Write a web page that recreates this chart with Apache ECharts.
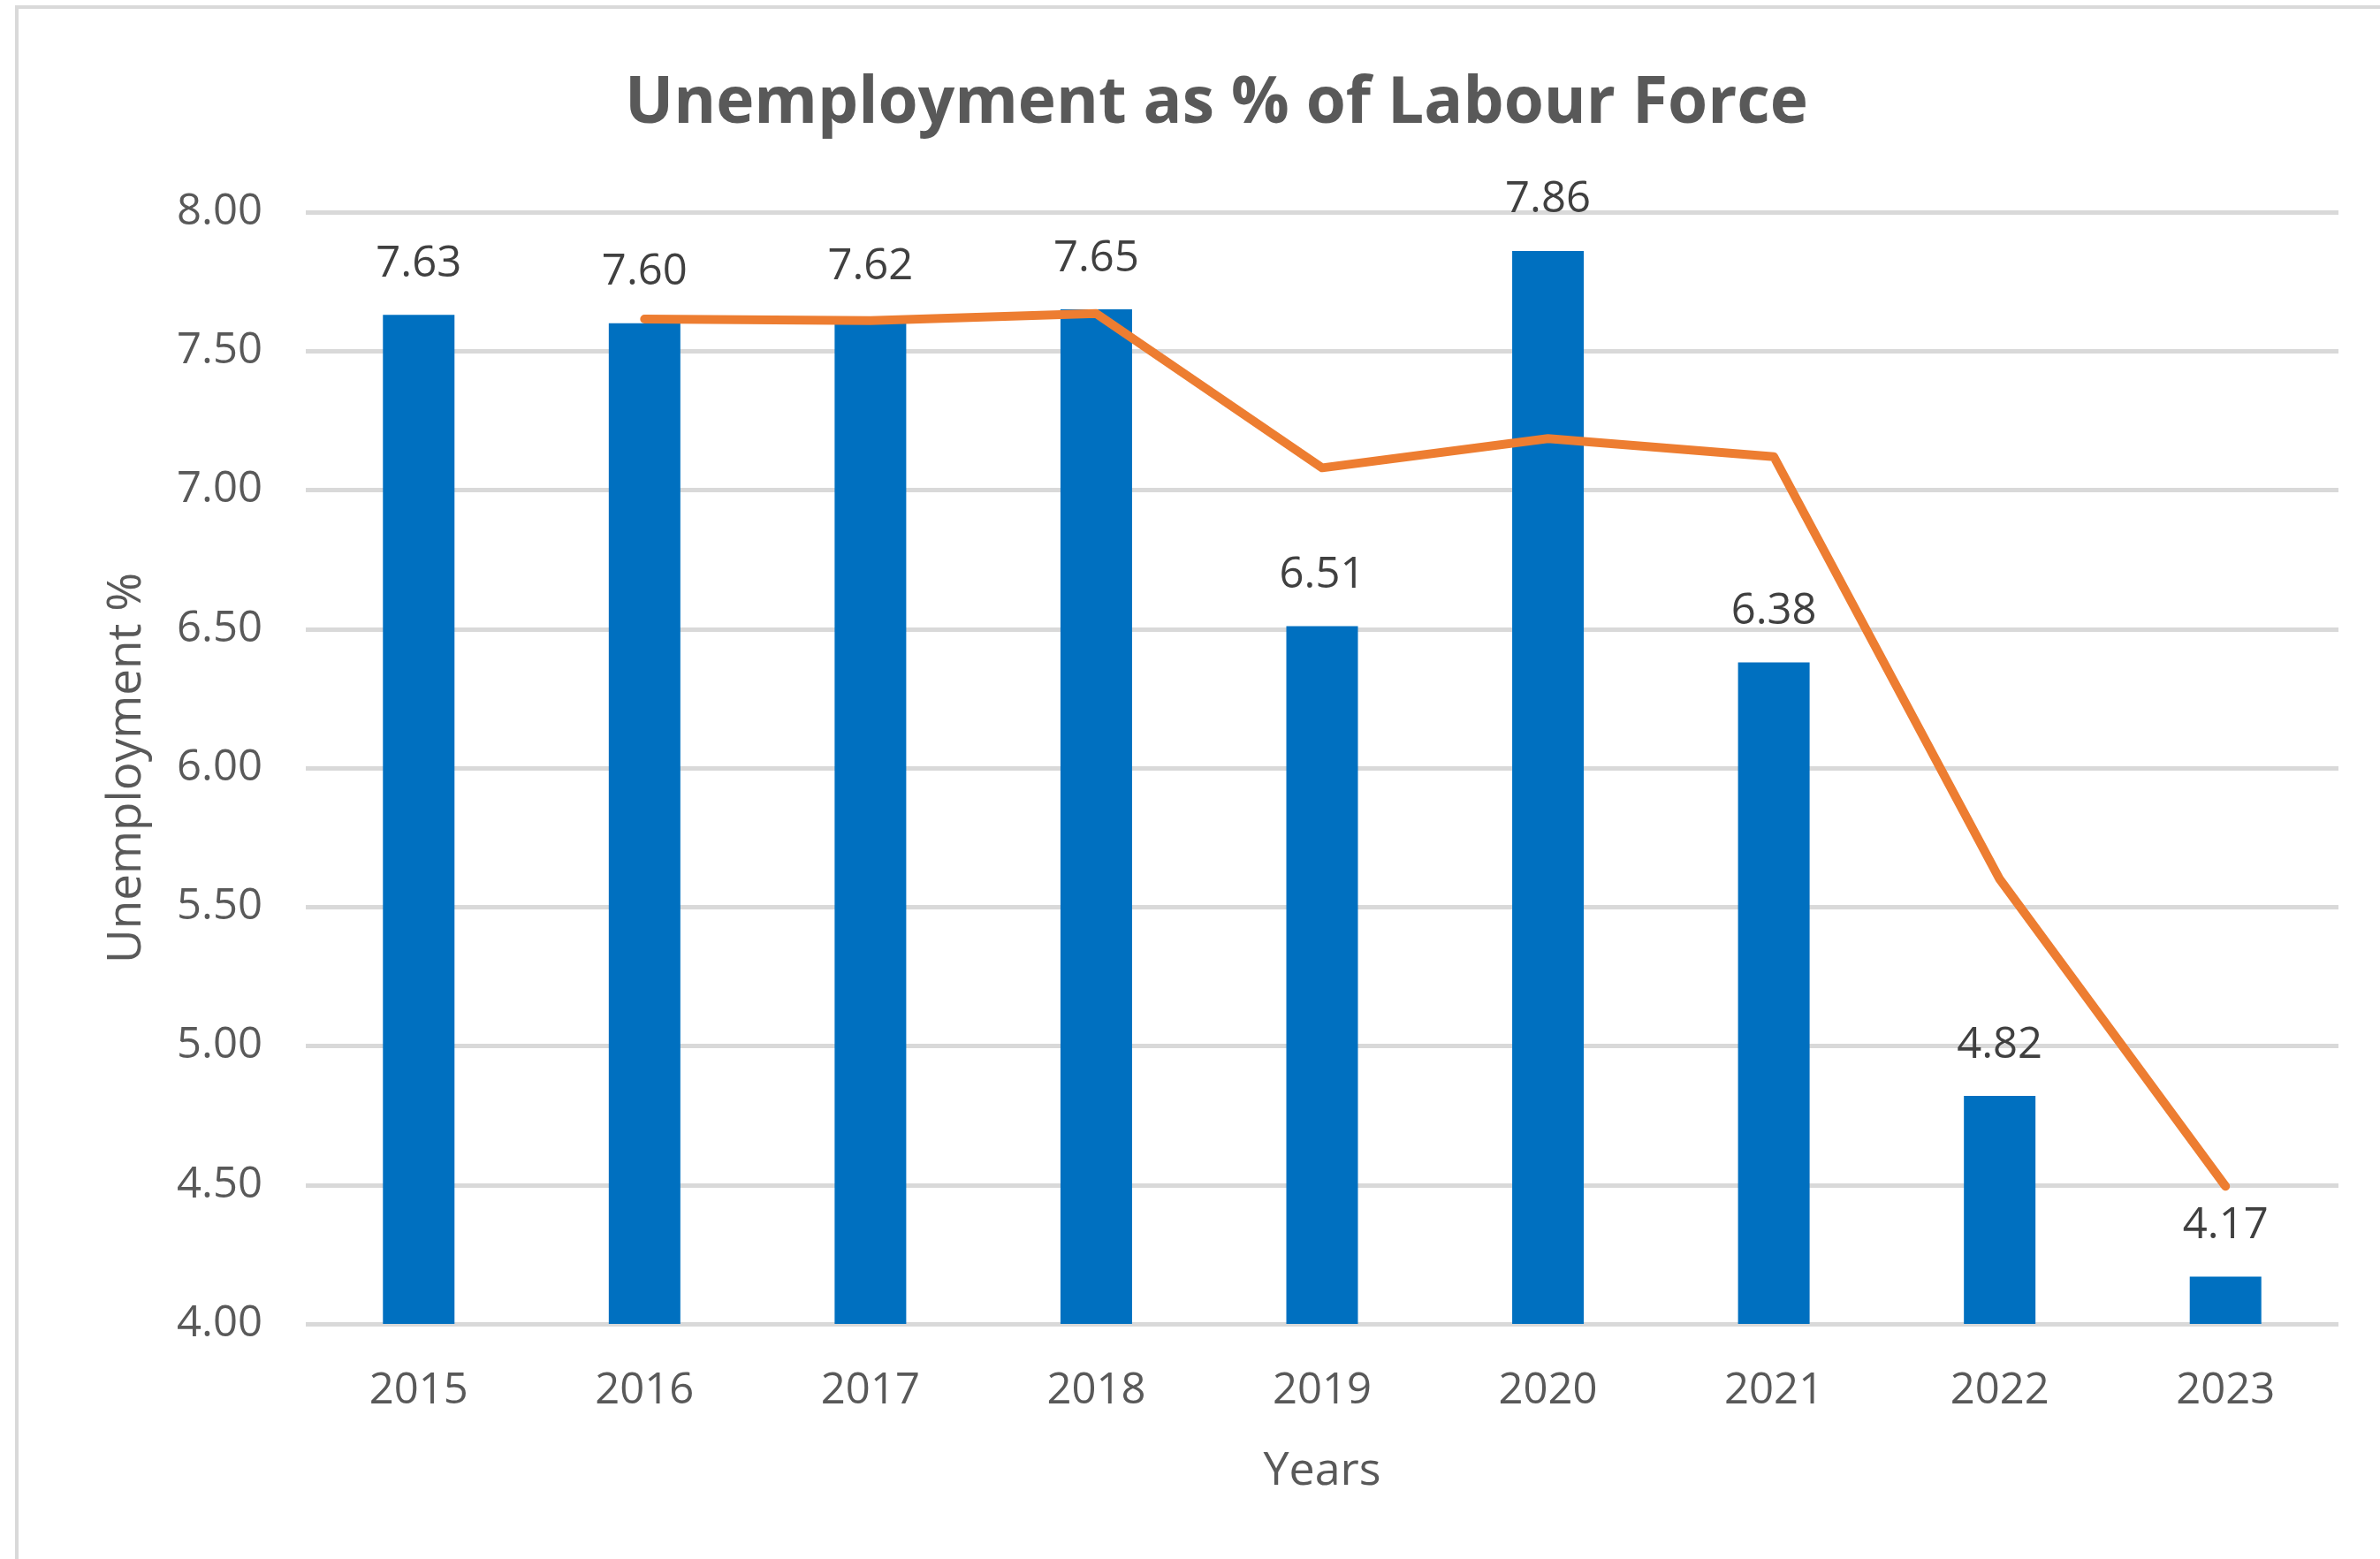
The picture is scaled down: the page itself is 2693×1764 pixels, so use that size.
<!DOCTYPE html>
<html>
<head>
<meta charset="utf-8">
<script src="https://cdn.jsdelivr.net/npm/echarts@6/dist/echarts.min.js"></script>
<style>
  html, body { margin: 0; padding: 0; background: #ffffff; }
  #chart { width: 2693px; height: 1764px; }
</style>
</head>
<body>
<div id="chart"></div>
<script>
// Years on the category axis
const years = ['2015', '2016', '2017', '2018', '2019', '2020', '2021', '2022', '2023'];
// Unemployment rate, % of labour force
const unemployment = [7.63, 7.60, 7.62, 7.65, 6.51, 7.86, 6.38, 4.82, 4.17];
// Trend line (two-year moving average), no value for the first year
const trend = [null, 7.615, 7.61, 7.635, 7.08, 7.185, 7.12, 5.60, 4.495];
// Value-axis ticks
const yTicks = { min: 4, max: 8, step: 0.5 };

const FONT = '"Open Sans", "Noto Sans", sans-serif';
const chart = echarts.init(document.getElementById('chart'));

chart.setOption({
  backgroundColor: '#ffffff',
  animation: false,
  title: {
    text: 'Unemployment as % of Labour Force',
    left: 702,
    top: 77,
    textStyle: { fontFamily: FONT, fontSize: 73, fontWeight: 'bold', color: '#595959' }
  },
  graphic: [{
    type: 'rect',
    shape: { x: 19, y: 8, width: 2800, height: 1900 },
    style: { fill: 'none', stroke: '#D9D9D9', lineWidth: 4 },
    silent: true
  }],
  grid: { left: 346, right: 47, top: 240, bottom: 266, containLabel: false },
  xAxis: {
    type: 'category',
    data: years,
    name: 'Years',
    nameLocation: 'middle',
    nameGap: 141,
    nameTextStyle: { fontFamily: FONT, fontSize: 52, color: '#595959' },
    axisLine: { show: false },
    axisTick: { show: false },
    axisLabel: { fontFamily: FONT, fontSize: 49, color: '#595959', margin: 52 }
  },
  yAxis: {
    type: 'value',
    min: yTicks.min,
    max: yTicks.max,
    interval: yTicks.step,
    name: 'Unemployment %',
    nameLocation: 'middle',
    nameRotate: 90,
    nameGap: 176,
    nameTextStyle: { fontFamily: FONT, fontSize: 53, color: '#595959' },
    axisLine: { show: false },
    axisTick: { show: false },
    axisLabel: {
      fontFamily: FONT, fontSize: 49, color: '#595959', margin: 49,
      formatter: v => v.toFixed(2)
    },
    splitLine: { lineStyle: { color: '#D9D9D9', width: 5 } }
  },
  series: [
    {
      type: 'bar',
      data: unemployment,
      barWidth: 81,
      itemStyle: { color: '#0070C0' },
      label: {
        show: true,
        position: 'top',
        distance: 33,
        fontFamily: FONT,
        fontSize: 49,
        color: '#404040',
        formatter: p => p.value.toFixed(2)
      },
      z: 2
    },
    {
      type: 'line',
      data: trend,
      symbol: 'none',
      connectNulls: false,
      lineStyle: { color: '#ED7D31', width: 10, join: 'round', cap: 'round' },
      z: 3
    }
  ]
});
</script>
</body>
</html>
